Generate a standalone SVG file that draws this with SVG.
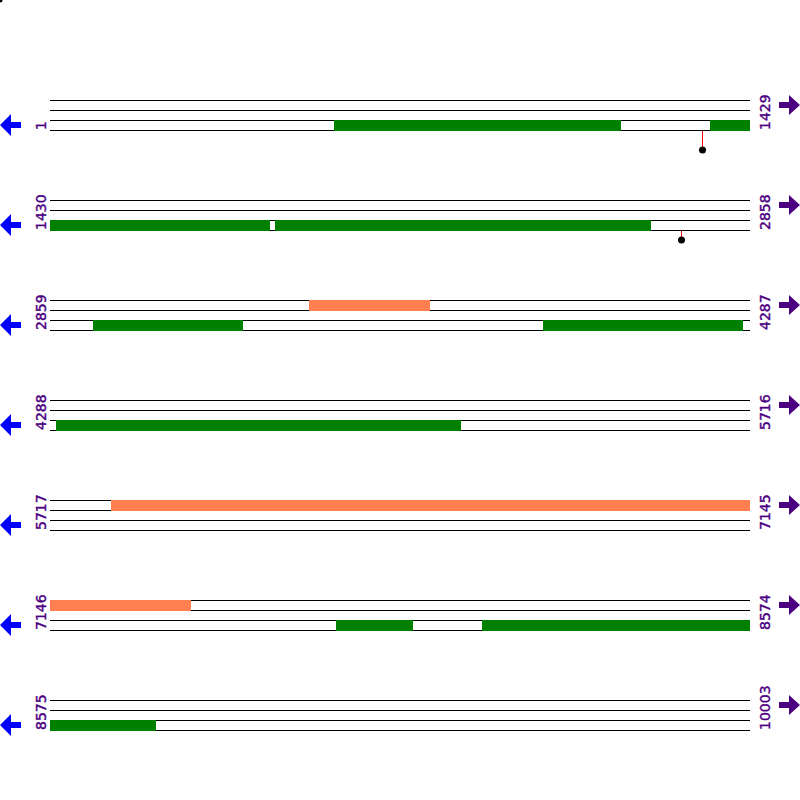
<svg xmlns="http://www.w3.org/2000/svg" width="800" height="800" viewBox="0 0 800 800">
<style>
.ln{stroke:#000;stroke-width:1}
.g{fill:#008000}
.c{fill:#FF7F50}
.lbl{font-family:"DejaVu Sans",sans-serif;font-size:14px;fill:#4B0082;stroke:#4B0082;stroke-width:0.4}
.la{fill:#0000FF}
.ra{fill:#4B0082}
.stick{stroke:#FF0000;stroke-width:1}
</style>
<defs>
<g id="lines">
<line class="ln" x1="50" y1="100.5" x2="750" y2="100.5"/>
<line class="ln" x1="50" y1="110.5" x2="750" y2="110.5"/>
<line class="ln" x1="50" y1="120.5" x2="750" y2="120.5"/>
<line class="ln" x1="50" y1="130.5" x2="750" y2="130.5"/>
</g>
<path id="larrow" d="M0,125 L11,114 L11,122 L21,122 L21,128 L11,128 L11,136 Z"/>
<path id="rarrow" d="M800,105 L789,95 L789,102 L779,102 L779,108 L789,108 L789,115 Z"/>
</defs>
<rect x="0" y="0" width="800" height="800" fill="#fff"/>
<circle cx="0" cy="0" r="2.5" fill="#000"/>

<g id="row1">
<use href="#lines"/>
<rect class="g" x="334" y="120" width="287" height="11"/>
<rect class="g" x="710" y="120" width="40" height="11"/>
<line class="stick" x1="702.5" y1="131" x2="702.5" y2="150"/>
<circle cx="702.5" cy="150" r="3.5" fill="#000"/>
<text class="lbl" transform="translate(46,130) rotate(-90)">1</text>
<text class="lbl" transform="translate(770,130) rotate(-90)">1429</text>
<use href="#larrow" class="la"/>
<use href="#rarrow" class="ra"/>
</g>

<g id="row2" transform="translate(0,100)">
<use href="#lines"/>
<rect class="g" x="50" y="120" width="220" height="11"/>
<rect class="g" x="275" y="120" width="376" height="11"/>
<line class="stick" x1="681.5" y1="131" x2="681.5" y2="140"/>
<circle cx="681.5" cy="140" r="3.5" fill="#000"/>
<text class="lbl" transform="translate(46,130) rotate(-90)">1430</text>
<text class="lbl" transform="translate(770,130) rotate(-90)">2858</text>
<use href="#larrow" class="la"/>
<use href="#rarrow" class="ra"/>
</g>

<g id="row3" transform="translate(0,200)">
<use href="#lines"/>
<rect class="c" x="309" y="100" width="121" height="11"/>
<rect class="g" x="93" y="120" width="150" height="11"/>
<rect class="g" x="543" y="120" width="200" height="11"/>
<text class="lbl" transform="translate(46,130) rotate(-90)">2859</text>
<text class="lbl" transform="translate(770,130) rotate(-90)">4287</text>
<use href="#larrow" class="la"/>
<use href="#rarrow" class="ra"/>
</g>

<g id="row4" transform="translate(0,300)">
<use href="#lines"/>
<rect class="g" x="56" y="120" width="405" height="11"/>
<text class="lbl" transform="translate(46,130) rotate(-90)">4288</text>
<text class="lbl" transform="translate(770,130) rotate(-90)">5716</text>
<use href="#larrow" class="la"/>
<use href="#rarrow" class="ra"/>
</g>

<g id="row5" transform="translate(0,400)">
<use href="#lines"/>
<rect class="c" x="111" y="100" width="639" height="11"/>
<text class="lbl" transform="translate(46,130) rotate(-90)">5717</text>
<text class="lbl" transform="translate(770,130) rotate(-90)">7145</text>
<use href="#larrow" class="la"/>
<use href="#rarrow" class="ra"/>
</g>

<g id="row6" transform="translate(0,500)">
<use href="#lines"/>
<rect class="c" x="50" y="100" width="141" height="11"/>
<rect class="g" x="336" y="120" width="77" height="11"/>
<rect class="g" x="482" y="120" width="268" height="11"/>
<text class="lbl" transform="translate(46,130) rotate(-90)">7146</text>
<text class="lbl" transform="translate(770,130) rotate(-90)">8574</text>
<use href="#larrow" class="la"/>
<use href="#rarrow" class="ra"/>
</g>

<g id="row7" transform="translate(0,600)">
<use href="#lines"/>
<rect class="g" x="50" y="120" width="106" height="11"/>
<text class="lbl" transform="translate(46,130) rotate(-90)">8575</text>
<text class="lbl" transform="translate(770,130) rotate(-90)">10003</text>
<use href="#larrow" class="la"/>
<use href="#rarrow" class="ra"/>
</g>
</svg>
